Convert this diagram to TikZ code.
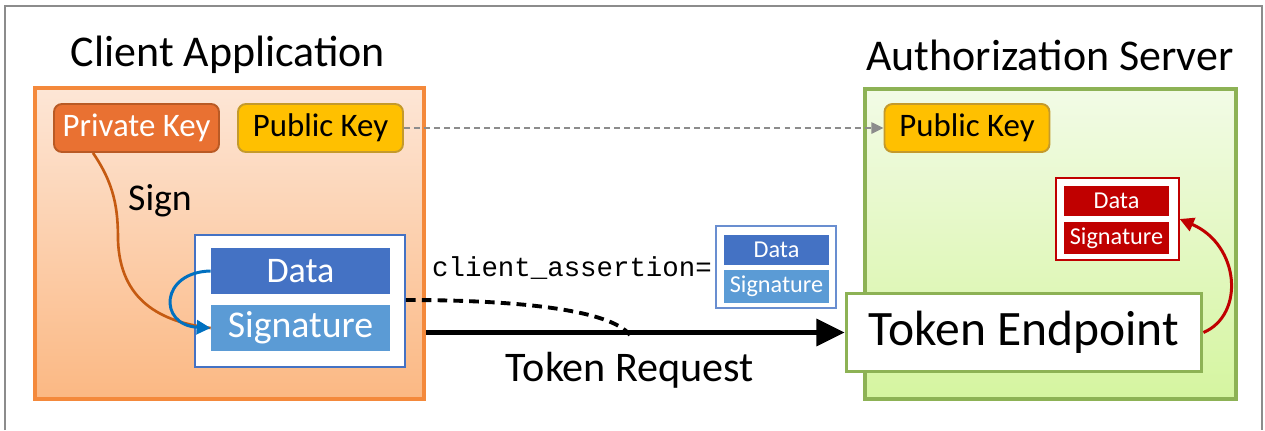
\documentclass[tikz,border=0pt]{standalone}
\usepackage{fontspec}
\setmainfont{Carlito}
\setmonofont{Liberation Mono}
\usetikzlibrary{arrows.meta}

\definecolor{frame}{HTML}{8C8C8C}
\definecolor{orgline}{HTML}{F4893B}
\definecolor{orgtop}{HTML}{FDE6D6}
\definecolor{orgbot}{HTML}{FBB883}
\definecolor{grnline}{HTML}{8DB255}
\definecolor{grntop}{HTML}{F2FBE6}
\definecolor{grnbot}{HTML}{D5F5A0}
\definecolor{privfill}{HTML}{E97132}
\definecolor{privline}{HTML}{B95A25}
\definecolor{pubfill}{HTML}{FFC000}
\definecolor{publine}{HTML}{C49A2C}
\definecolor{datablue}{HTML}{4472C4}
\definecolor{sigblue}{HTML}{5B9BD5}
\definecolor{loopblue}{HTML}{0070C0}
\definecolor{signline}{HTML}{C55A11}
\definecolor{redbox}{HTML}{C00000}

\begin{document}
\begin{tikzpicture}[x=0.02cm, y=-0.02cm,
		title/.style={font=\fontsize{25}{30}\selectfont},
		keybox/.style={rounded corners=4.5pt, line width=1.1pt, minimum width=3.3cm, minimum height=0.96cm, font=\fontsize{18.7}{22}\selectfont},
		bar/.style={text=white, minimum width=3.58cm, minimum height=0.92cm},
		smallbar/.style={text=white, minimum width=2.1cm, minimum height=0.6cm, font=\fontsize{13.8}{16}\selectfont}]
	\useasboundingbox (0,0) rectangle (1265,430);
	\draw[frame, line width=1.2pt] (5,430) -- (5,6) -- (1262,6) -- (1262,430);

	% the two sides
	\node[title] (clienttitle) at (228,55) {Client Application};
	\node[title] (servertitle) at (1050,55) {Authorization Server};
	\node[draw=orgline, line width=2.3pt, top color=orgtop, bottom color=orgbot, minimum width=7.78cm, minimum height=6.22cm] (client) at (229.5,243.5) {};
	\node[draw=grnline, line width=2.3pt, top color=grntop, bottom color=grnbot, minimum width=7.42cm, minimum height=6.2cm] (server) at (1050.5,244) {};

	% keys
	\node[keybox, fill=privfill, draw=privline, text=white] (privkey) at (136.5,128) {Private Key};
	\node[keybox, fill=pubfill, draw=publine] (pubkey) at (320.5,128) {Public Key};
	\node[keybox, fill=pubfill, draw=publine] (srvkey) at (967,128) {Public Key};

	% signed assertion in the client
	\node[draw=datablue, line width=1.1pt, fill=white, minimum width=4.2cm, minimum height=2.64cm] (jwt) at (300,301) {};
	\node[bar, fill=datablue, font=\fontsize{20.5}{24}\selectfont] (data) at (300.5,271) {Data};
	\node[bar, fill=sigblue, font=\fontsize{21.5}{25}\selectfont] (sig) at (300.5,328) {Signature};
	\node[font=\fontsize{21.5}{25}\selectfont] (sign) at (160,201) {Sign};

	% assertion sent with the request
	\node[font=\ttfamily\fontsize{15.6}{18}\selectfont] (assertion) at (572,268) {client\_assertion=};
	\node[draw=datablue!80, line width=0.8pt, fill=white, minimum width=2.4cm, minimum height=1.64cm] (sentjwt) at (776,267) {};
	\node[smallbar, fill=datablue] (sentdata) at (776.5,249.5) {Data};
	\node[smallbar, fill=sigblue] (sentsig) at (776.5,286.5) {Signature};

	% server side
	\node[draw=redbox, line width=0.8pt, fill=white, minimum width=2.46cm, minimum height=1.64cm] (srvjwt) at (1117.5,219) {};
	\node[smallbar, fill=redbox] (srvdata) at (1116.5,201) {Data};
	\node[smallbar, fill=redbox] (srvsig) at (1116.5,238) {Signature};
	\node[draw=grnline, line width=2.2pt, fill=white, minimum width=7.1cm, minimum height=1.56cm, font=\fontsize{28.2}{33}\selectfont] (tokenep) at (1024,332.5) {Token Endpoint};
	\node[font=\fontsize{24}{28}\selectfont] (request) at (630,370) {Token Request};
	\coordinate (join) at (630,335);

	% connectors
	\draw[frame, line width=1.1pt, dash pattern=on 3.4pt off 2.3pt, -{Triangle[length=7pt, width=6.5pt]}] (pubkey.east) -- (srvkey.west);
	\draw[signline, line width=1.5pt] ([xshift=-0.87cm]privkey.south) .. controls (115,185) and (118,210) .. (118,240) .. controls (120,300) and (160,322) .. (sig.west);
	\draw[loopblue, line width=1.7pt, -{Triangle[length=8pt, width=8pt]}] (data.west) .. controls (160,272) and (158,325) .. (sig.west);
	\draw[line width=2.8pt, -{Triangle[length=16pt, width=15pt]}] (client.east |- tokenep.west) -- (tokenep.west);
	\draw[line width=2.2pt, dash pattern=on 5.5pt off 3.5pt] (jwt.east |- 0,300) .. controls (520,300) and (610,310) .. (join);
	\draw[redbox, line width=1.7pt, -{Triangle[length=8pt, width=8pt]}] (tokenep.east) .. controls (1245,315) and (1240,245) .. (srvjwt.east);
\end{tikzpicture}
\end{document}
